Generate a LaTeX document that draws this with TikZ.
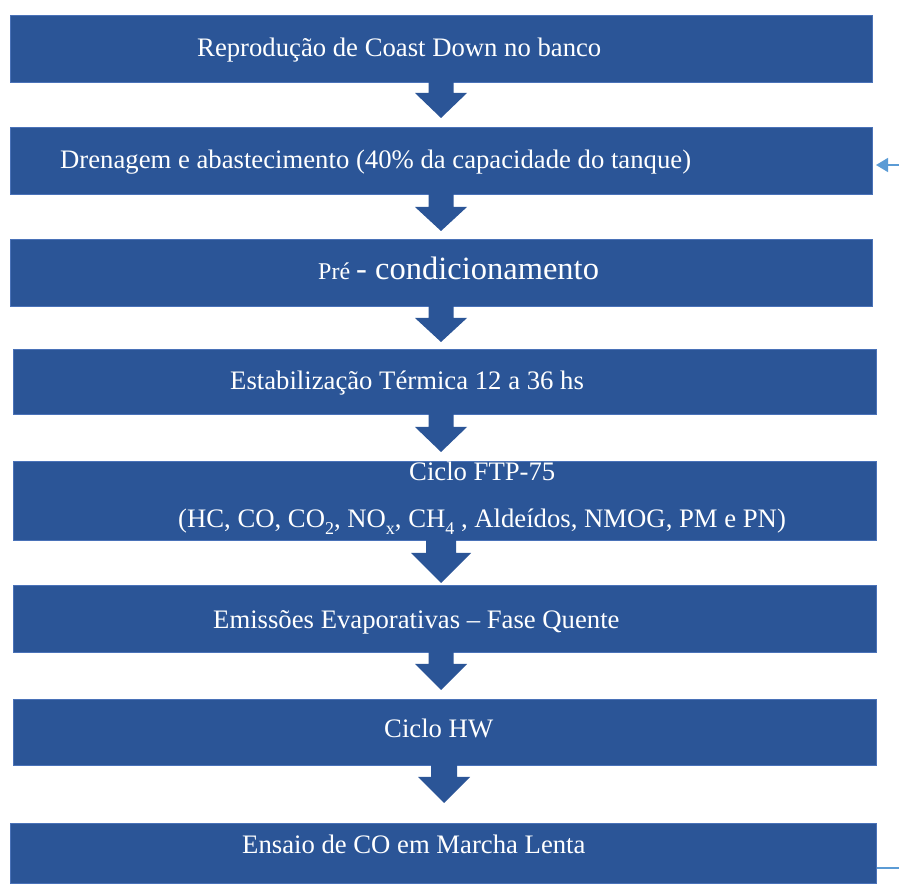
\documentclass[tikz,border=0pt]{standalone}
\usepackage{fontspec}
\setmainfont{Liberation Serif}
\usetikzlibrary{arrows.meta,calc}
\definecolor{boxblue}{HTML}{2B5597}
\definecolor{edgeblue}{HTML}{4A72B8}
\definecolor{lightblue}{HTML}{5B9BD5}
\tikzset{
  box/.style={fill=boxblue,draw=edgeblue,line width=0.6pt,inner sep=0pt,outer sep=0pt,anchor=south west},
  lbl/.style={text=white,font=\fontsize{26.7}{30}\selectfont,anchor=base west,inner sep=0pt},
  thin/.style={draw=lightblue,line width=1.5pt}
}
\newcommand{\mkbox}[5]{\node[box,minimum width={(#4-#2)*1pt},minimum height={(#5-#3)*1pt}] (#1) at (#2,#3) {};}
% from, to, xc, shaft half width, head half width, head base below from, tip above to
\newcommand{\barrow}[7]{%
  \path let \p1=(#1), \p2=(#2) in
  [fill=boxblue] (#3-#4,\y1) -- (#3+#4,\y1) -- (#3+#4,\y1-#6) -- (#3+#5,\y1-#6) -- (#3,\y2+#7) -- (#3-#5,\y1-#6) -- (#3-#4,\y1-#6) -- cycle;}
\newcommand{\lowsub}[1]{\raisebox{-7pt}{\fontsize{18}{20}\selectfont #1}}
\begin{document}
\begin{tikzpicture}[x=1pt,y=1pt]
\useasboundingbox (0,0) rectangle (899,883);
\mkbox{b1}{10}{801}{872}{868}
\mkbox{b2}{10}{689}{872}{756}
\mkbox{b3}{10}{577}{872}{644}
\mkbox{b4}{13}{469}{876}{534}
\mkbox{b5}{13}{343}{876}{422}
\mkbox{b6}{13}{231}{876}{298}
\mkbox{b7}{13}{118}{876}{184}
\mkbox{b8}{10}{0}{876}{60}
\barrow{b1.south}{b2.north}{441}{12.5}{26}{11}{9}
\barrow{b2.south}{b3.north}{441}{12.5}{26}{13}{8}
\barrow{b3.south}{b4.north}{441}{12.5}{26}{12}{7}
\barrow{b4.south}{b5.north}{441}{12.5}{26}{13}{9}
\barrow{b5.south}{b6.north}{441}{15}{30}{13}{2}
\barrow{b6.south}{b7.north}{441}{12.5}{26}{12}{9}
\barrow{b7.south}{b8.north}{444}{13}{26}{12}{20}
\node[lbl] (t1) at (197,826) {Reprodução de Coast Down no banco};
\node[lbl] (t2) at (60,714) {Drenagem e abastecimento (40\% da capacidade do tanque)};
\node[lbl] (t3) at (318,603) {\fontsize{24}{26}\selectfont Pré \fontsize{32.5}{34}\selectfont - condicionamento};
\node[lbl] (t4) at (230,493) {Estabilização Térmica 12 a 36 hs};
\node[lbl] (t5a) at (409,402) {Ciclo FTP-75};
\node[lbl] (t5b) at (178,355) {(HC, CO, CO\lowsub{2}, NO\lowsub{x}, CH\lowsub{4} , Aldeídos, NMOG, PM e PN)};
\node[lbl] (t6) at (213,254) {Emissões Evaporativas – Fase Quente};
\node[lbl] (t7) at (384,145) {Ciclo HW};
\node[lbl] (t8) at (242,29) {Ensaio de CO em Marcha Lenta};
\coordinate (ra) at (899,718);
\coordinate (rb) at (876,718);
\draw[thin,-{Triangle[length=12pt,width=14pt]}] (ra) -- (rb);
\coordinate (la) at (877,15);
\coordinate (lb) at (899,15);
\draw[thin] (la) -- (lb);
\end{tikzpicture}
\end{document}
